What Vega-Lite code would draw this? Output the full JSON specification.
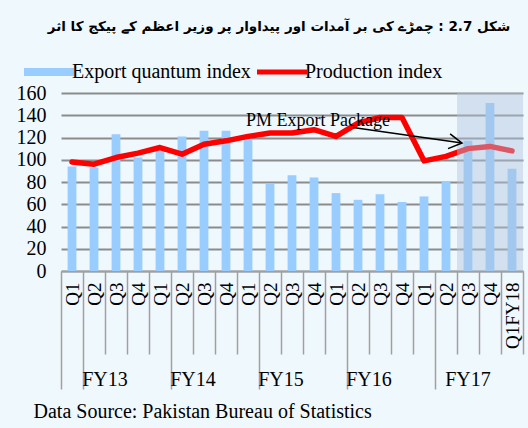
{
  "$schema": "https://vega.github.io/schema/vega-lite/v6.json",
  "width": 462,
  "height": 178,
  "autosize": "none",
  "padding": {"left": 61, "top": 93, "right": 5, "bottom": 157},
  "background": "#eff8fd",
  "config": {"view": {"stroke": null}, "font": "Liberation Serif", "axis": {"labelOverlap": false}},
  "title": {
    "text": "شکل 2.7 : چمڑے کی بر آمدات اور پیداوار پر وزیر اعظم کے پیکج کا اثر",
    "font": "DejaVu Sans",
    "fontSize": 13.5,
    "fontWeight": "bold",
    "color": "black",
    "anchor": "middle",
    "frame": "group",
    "dx": -13,
    "dy": -23,
    "offset": 6
  },
  "datasets": {
    "main": [
      {"period": "FY13 Q1", "exp": 94, "prod": 98},
      {"period": "FY13 Q2", "exp": 93, "prod": 96},
      {"period": "FY13 Q3", "exp": 123, "prod": 102},
      {"period": "FY13 Q4", "exp": 102, "prod": 106},
      {"period": "FY14 Q1", "exp": 108, "prod": 111},
      {"period": "FY14 Q2", "exp": 121, "prod": 105},
      {"period": "FY14 Q3", "exp": 126, "prod": 114},
      {"period": "FY14 Q4", "exp": 126, "prod": 117},
      {"period": "FY15 Q1", "exp": 119, "prod": 121},
      {"period": "FY15 Q2", "exp": 79, "prod": 124},
      {"period": "FY15 Q3", "exp": 86, "prod": 124},
      {"period": "FY15 Q4", "exp": 84, "prod": 127},
      {"period": "FY16 Q1", "exp": 70, "prod": 121},
      {"period": "FY16 Q2", "exp": 64, "prod": 133},
      {"period": "FY16 Q3", "exp": 69, "prod": 138},
      {"period": "FY16 Q4", "exp": 62, "prod": 138},
      {"period": "FY17 Q1", "exp": 67, "prod": 99},
      {"period": "FY17 Q2", "exp": 81, "prod": 103},
      {"period": "FY17 Q3", "exp": 117, "prod": 110},
      {"period": "FY17 Q4", "exp": 151, "prod": 112},
      {"period": "Q1FY18", "exp": 92, "prod": 108}
    ]
  },
  "layer": [
    {
      "data": {"name": "main"},
      "mark": {"type": "bar", "width": {"band": 0.4}},
      "encoding": {
        "x": {
          "field": "period",
          "type": "nominal",
          "scale": {
            "domain": ["FY13 Q1","FY13 Q2","FY13 Q3","FY13 Q4","FY14 Q1","FY14 Q2","FY14 Q3","FY14 Q4","FY15 Q1","FY15 Q2","FY15 Q3","FY15 Q4","FY16 Q1","FY16 Q2","FY16 Q3","FY16 Q4","FY17 Q1","FY17 Q2","FY17 Q3","FY17 Q4","Q1FY18"],
            "paddingInner": 0,
            "paddingOuter": 0
          },
          "axis": {
            "orient": "bottom",
            "title": null,
            "labelExpr": "isValid(datum.value) ? replace(datum.value, /FY1[0-9] /, '') : ''",
            "labelAngle": 270,
            "labelAlign": "right",
            "labelBaseline": "middle",
            "labelPadding": {"condition": {"test": "indexof(['FY13 Q1','FY14 Q1','FY15 Q1','FY16 Q1','FY17 Q1'], datum.value) >= 0", "value": -107}, "value": -72},
            "labelFont": "Liberation Serif",
            "labelFontSize": 19,
            "labelColor": "black",
            "labelOverlap": false,
            "tickBand": "extent",
            "tickColor": "#a0a0a0",
            "tickWidth": 1.5,
            "tickSize": {"condition": {"test": "!isValid(datum.value) || indexof(['FY13 Q1','FY14 Q1','FY15 Q1','FY16 Q1','FY17 Q1'], datum.value) >= 0", "value": 118}, "value": 83},
            "domainColor": "#a0a0a0",
            "domainWidth": 1.5,
            "grid": false
          }
        },
        "y": {
          "field": "exp",
          "type": "quantitative",
          "scale": {"domain": [0, 160], "nice": false},
          "axis": {
            "title": null,
            "values": [0, 20, 40, 60, 80, 100, 120, 140, 160],
            "domain": false,
            "ticks": false,
            "labelPadding": 15,
            "labelOverlap": false,
            "labelFont": "Liberation Serif",
            "labelFontSize": 20,
            "labelColor": "black",
            "grid": true,
            "gridColor": "#8c8c8c",
            "gridWidth": 1.8
          }
        },
        "color": {
          "datum": "Export quantum index",
          "type": "nominal",
          "scale": {"domain": ["Export quantum index", "Production index"], "range": ["#99ccff", "#ff0000"]},
          "legend": {
            "title": null,
            "orient": "none",
            "direction": "horizontal",
            "legendX": -22,
            "legendY": -31,
            "padding": 0,
            "symbolSize": 2500,
            "labelOffset": 13,
            "labelLimit": 400,
            "columnPadding": -4,
            "labelFont": "Liberation Serif",
            "labelFontSize": 20,
            "labelColor": "black",
            "encode": {
              "symbols": {
                "update": {
                  "shape": {"signal": "datum.value == 'Production index' ? 'M-1,0L1,0' : 'M-1,-0.16L1,-0.16L1,0.16L-1,0.16Z'"},
                  "fill": {"signal": "datum.value == 'Production index' ? 'transparent' : '#99ccff'"},
                  "stroke": {"signal": "datum.value == 'Production index' ? '#ff0000' : 'transparent'"},
                  "strokeWidth": {"signal": "datum.value == 'Production index' ? 5 : 0"},
                  "opacity": {"value": 1}
                }
              }
            }
          }
        }
      }
    },
    {
      "data": {"name": "main"},
      "mark": {"type": "line", "strokeWidth": 5.5, "strokeJoin": "round", "strokeCap": "round"},
      "encoding": {
        "x": {
          "field": "period",
          "type": "nominal",
          "axis": {
            "orient": "bottom",
            "domain": false,
            "ticks": false,
            "grid": false,
            "labelAngle": 0,
            "labelAlign": "center",
            "labelBaseline": "top",
            "labelPadding": 98,
            "labelExpr": "datum.value == 'FY13 Q2' ? 'FY13' : datum.value == 'FY14 Q2' ? 'FY14' : datum.value == 'FY15 Q2' ? 'FY15' : datum.value == 'FY16 Q2' ? 'FY16' : datum.value == 'FY17 Q3' ? 'FY17' : ''",
            "labelOffset": {"condition": {"test": "datum.value == 'FY17 Q3'", "value": 0}, "value": 11},
            "labelFont": "Liberation Serif",
            "labelFontSize": 20,
            "labelColor": "black",
            "labelOverlap": false,
            "title": "Data Source: Pakistan Bureau of Statistics",
            "titleFont": "Liberation Serif",
            "titleFontSize": 20,
            "titleFontWeight": "normal",
            "titleColor": "black",
            "titleAnchor": "start",
            "titleAlign": "left",
            "titleBaseline": "alphabetic",
            "titleX": -28,
            "titleY": 146
          }
        },
        "y": {"field": "prod", "type": "quantitative", "axis": null},
        "color": {"datum": "Production index", "type": "nominal"}
      }
    },
    {
      "data": {"values": [{"period": "FY17 Q3"}, {"period": "FY17 Q4"}, {"period": "Q1FY18"}]},
      "mark": {"type": "bar", "color": "#b0c4de", "opacity": 0.45},
      "encoding": {
        "x": {"field": "period", "type": "nominal", "axis": null},
        "y": {"datum": 160, "type": "quantitative", "axis": null},
        "y2": {"datum": 0}
      }
    },
    {
      "data": {"values": [{"period": "FY15 Q4", "v": 130, "label": "PM Export Package"}]},
      "mark": {"type": "text", "font": "Liberation Serif", "fontSize": 18, "color": "black", "align": "center", "baseline": "alphabetic", "dx": 4},
      "encoding": {
        "x": {"field": "period", "type": "nominal", "axis": null},
        "y": {"field": "v", "type": "quantitative", "axis": null},
        "text": {"field": "label"}
      }
    },
    {
      "data": {"values": [{"period": "FY16 Q2", "v": 129, "period2": "FY17 Q3", "v2": 115}]},
      "mark": {"type": "rule", "color": "black", "strokeWidth": 1.5, "xOffset": -5, "x2Offset": -6},
      "encoding": {
        "x": {"field": "period", "type": "nominal", "axis": null},
        "x2": {"field": "period2"},
        "y": {"field": "v", "type": "quantitative", "axis": null},
        "y2": {"field": "v2"}
      }
    },
    {
      "data": {"values": [{"period": "FY17 Q3", "v": 115}]},
      "mark": {"type": "point", "shape": "M-0.87,-0.5L0,0L-0.87,0.5", "filled": false, "stroke": "black", "strokeWidth": 1.5, "size": 900, "angle": 8, "xOffset": -6, "opacity": 1},
      "encoding": {
        "x": {"field": "period", "type": "nominal", "axis": null},
        "y": {"field": "v", "type": "quantitative", "axis": null}
      }
    }
  ],
  "resolve": {"axis": {"x": "independent", "y": "independent"}}
}
